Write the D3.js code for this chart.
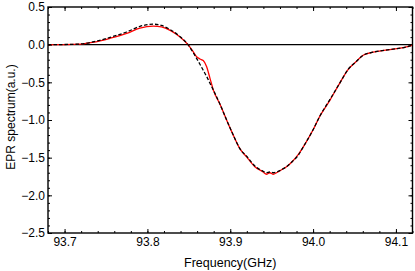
<!DOCTYPE html>
<html>
<head>
<meta charset="utf-8">
<script src="https://cdn.jsdelivr.net/npm/d3@7"></script>
<style>
  body { margin: 0; background: #fff; }
  text { font-family: "Liberation Sans", Arial, sans-serif; }
</style>
</head>
<body>
<div id="chart"></div>
<script>
var svgWidth = 415;
var svgHeight = 271;

var margin = { top: 7, right: 2.5, bottom: 38, left: 48 };
var width = svgWidth - margin.left - margin.right;
var height = svgHeight - margin.top - margin.bottom;

// frequency grid (GHz)
var freq = [93.68, 93.70, 93.72, 93.734, 93.755, 93.775, 93.791, 93.807, 93.817, 93.8275,
            93.839, 93.849, 93.855, 93.859, 93.8634, 93.8674, 93.8714, 93.8754, 93.8795, 93.888,
            93.8956, 93.9036, 93.9116, 93.9197, 93.9297, 93.9397, 93.9437, 93.9478, 93.952, 93.9559,
            93.9619, 93.9679, 93.975, 93.982, 93.988, 94.0, 94.0081, 94.0202, 94.0322, 94.0422,
            94.0524, 94.0604, 94.0724, 94.0925, 94.1127, 94.12];

// measured spectrum (red)
var measured = [0, 0.001, 0.008, 0.03, 0.085, 0.15, 0.22, 0.245, 0.235, 0.19,
                0.105, 0, -0.09, -0.155, -0.19, -0.21, -0.29, -0.44, -0.6, -0.8,
                -1.0, -1.2, -1.38, -1.49, -1.62, -1.69, -1.72, -1.70, -1.72, -1.70,
                -1.66, -1.62, -1.55, -1.46, -1.36, -1.13, -0.95, -0.74, -0.51, -0.33,
                -0.22, -0.14, -0.10, -0.066, -0.03, -0.005];

// simulated spectrum (black dashed)
var simulated = [0, 0.002, 0.01, 0.036, 0.097, 0.168, 0.243, 0.272, 0.255, 0.2,
                 0.11, 0, -0.1, -0.175, -0.26, -0.34, -0.42, -0.51, -0.6, -0.8,
                 -1.0, -1.2, -1.38, -1.48, -1.61, -1.68, -1.70, -1.69, -1.70, -1.69,
                 -1.66, -1.62, -1.55, -1.47, -1.36, -1.13, -0.95, -0.73, -0.51, -0.33,
                 -0.22, -0.14, -0.10, -0.066, -0.03, -0.005];

var xTicks = [93.7, 93.8, 93.9, 94.0, 94.1];
var yTicks = [0.5, 0.0, -0.5, -1.0, -1.5, -2.0, -2.5];

var svg = d3.select("#chart")
  .append("svg")
  .attr("width", svgWidth)
  .attr("height", svgHeight);

var chartGroup = svg.append("g")
  .attr("transform", `translate(${margin.left}, ${margin.top})`);

var xScale = d3.scaleLinear().domain([93.68, 94.12]).range([0, width]);
var yScale = d3.scaleLinear().domain([-2.5, 0.5]).range([height, 0]);

var xMinor = d3.range(93.68, 94.1201, 0.02);
var yMinor = d3.range(-2.5, 0.501, 0.1);
var fmt = d3.format(".1f");

// inward ticks on all four sides
function tickSet(g, axisFn, scale, values, len, pad) {
  var ax = axisFn(scale).tickValues(values).tickSizeInner(-len).tickSizeOuter(0);
  if (pad != null) ax.tickFormat(fmt).tickPadding(pad); else ax.tickFormat("");
  g.call(ax);
  g.select(".domain").remove();
  g.selectAll("line").attr("stroke", "#000").attr("stroke-width", 1);
  g.selectAll("text").attr("font-size", 12).attr("fill", "#000")
    .attr("font-family", "'Liberation Sans', Arial, sans-serif");
}

var bottomG = chartGroup.append("g").attr("transform", `translate(0, ${height})`);
tickSet(bottomG.append("g"), d3.axisBottom, xScale, xMinor, 2);
tickSet(bottomG.append("g"), d3.axisBottom, xScale, xTicks, 4, 4);
var topG = chartGroup.append("g");
tickSet(topG.append("g"), d3.axisTop, xScale, xMinor, 2);
tickSet(topG.append("g"), d3.axisTop, xScale, xTicks, 4);
var leftG = chartGroup.append("g");
tickSet(leftG.append("g"), d3.axisLeft, yScale, yMinor, 2);
tickSet(leftG.append("g"), d3.axisLeft, yScale, yTicks, 4, 3);
var rightG = chartGroup.append("g").attr("transform", `translate(${width}, 0)`);
tickSet(rightG.append("g"), d3.axisRight, yScale, yMinor, 2);
tickSet(rightG.append("g"), d3.axisRight, yScale, yTicks, 4);

// zero line
chartGroup.append("line")
  .attr("x1", 0).attr("x2", width)
  .attr("y1", yScale(0)).attr("y2", yScale(0))
  .attr("stroke", "#000").attr("stroke-width", 1.3);

var line = d3.line()
  .x(d => xScale(d[0]))
  .y(d => yScale(d[1]))
  .curve(d3.curveMonotoneX);

chartGroup.append("path")
  .datum(freq.map((f, i) => [f, measured[i]]))
  .attr("d", line)
  .attr("fill", "none")
  .attr("stroke", "#f00")
  .attr("stroke-width", 1.3);

chartGroup.append("path")
  .datum(freq.map((f, i) => [f, simulated[i]]))
  .attr("d", line)
  .attr("fill", "none")
  .attr("stroke", "#000")
  .attr("stroke-width", 1.3)
  .attr("stroke-dasharray", "3.5,2");

// frame
chartGroup.append("rect")
  .attr("width", width).attr("height", height)
  .attr("fill", "none")
  .attr("stroke", "#000")
  .attr("stroke-width", 1.4);

// axis titles
svg.append("text")
  .attr("x", margin.left + xScale(93.9))
  .attr("y", 267)
  .attr("text-anchor", "middle")
  .attr("font-size", 12.5)
  .text("Frequency(GHz)");

svg.append("text")
  .attr("transform", `translate(15, 117) rotate(-90)`)
  .attr("text-anchor", "middle")
  .attr("font-size", 12)
  .text("EPR spectrum(a.u.)");
</script>
</body>
</html>
